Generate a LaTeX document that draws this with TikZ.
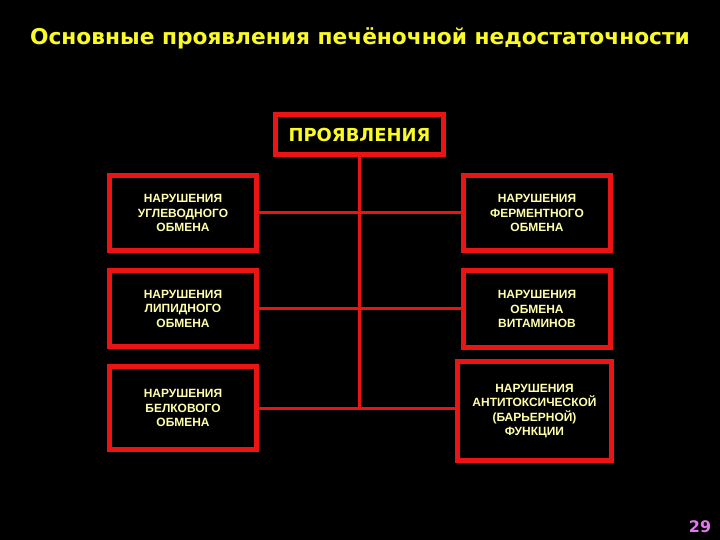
\documentclass[tikz,border=0pt]{standalone}
\usepackage{fontspec}
\setmainfont{DejaVu Sans}
\newfontfamily\boxfont{Liberation Sans}
\usepackage{xcolor}
\usetikzlibrary{positioning, calc}

\definecolor{slidered}{RGB}{235,20,20}
\definecolor{titleyellow}{RGB}{250,250,40}
\definecolor{paleyellow}{RGB}{255,255,170}
\definecolor{pagepink}{RGB}{225,120,235}

\begin{document}
\begin{tikzpicture}[
    x=1bp, y=-1bp,
    node distance=15bp,
    headbox/.style={rectangle, draw=slidered, line width=5bp,
                 minimum width=168bp, minimum height=40bp, inner sep=2bp,
                 align=center, font=\bfseries\fontsize{18}{20}\selectfont,
                 text=titleyellow},
    itembox/.style={rectangle, draw=slidered, line width=5bp,
                 minimum width=147bp, inner sep=2bp,
                 align=center, font=\boxfont\bfseries\fontsize{12}{14.5}\selectfont,
                 text=paleyellow},
    link/.style={draw=slidered, line width=3bp}
]
\fill[black] (0,0) rectangle (720,540);
\useasboundingbox (0,0) rectangle (720,540);

\node[font=\bfseries\fontsize{21.8}{24}\selectfont, text=titleyellow] (title) at (360,38)
    {Основные проявления печёночной недостаточности};

\node[headbox] (manif) at (359.5,134.5) {ПРОЯВЛЕНИЯ};

\node[itembox, minimum height=75bp] (carb) at (183,213) {НАРУШЕНИЯ\\УГЛЕВОДНОГО\\ОБМЕНА};
\node[itembox, minimum height=76bp, below=of carb] (lipid) {НАРУШЕНИЯ\\ЛИПИДНОГО\\ОБМЕНА};
\node[itembox, minimum height=83bp, below=of lipid] (protein) {НАРУШЕНИЯ\\БЕЛКОВОГО\\ОБМЕНА};

\node[itembox, minimum height=75bp] (enzyme) at (537,213) {НАРУШЕНИЯ\\ФЕРМЕНТНОГО\\ОБМЕНА};
\node[itembox, minimum height=77bp, below=of enzyme] (vitamin) {НАРУШЕНИЯ\\ОБМЕНА\\ВИТАМИНОВ};
\node[itembox, minimum width=154bp, minimum height=99bp, below=9bp of vitamin, xshift=-2.5bp] (barrier)
    {НАРУШЕНИЯ\\АНТИТОКСИЧЕСКОЙ\\(БАРЬЕРНОЙ)\\ФУНКЦИИ};

\node[font=\bfseries\fontsize{16}{18}\selectfont, text=pagepink] (pagenum) at (700,527) {29};

\draw[link] (manif.south) -- (manif.south |- protein.east);
\draw[link] (carb.east) -- (enzyme.west);
\draw[link] (lipid.east) -- (lipid.east -| vitamin.west);
\draw[link] (protein.east) -- (protein.east -| barrier.west);
\end{tikzpicture}
\end{document}
